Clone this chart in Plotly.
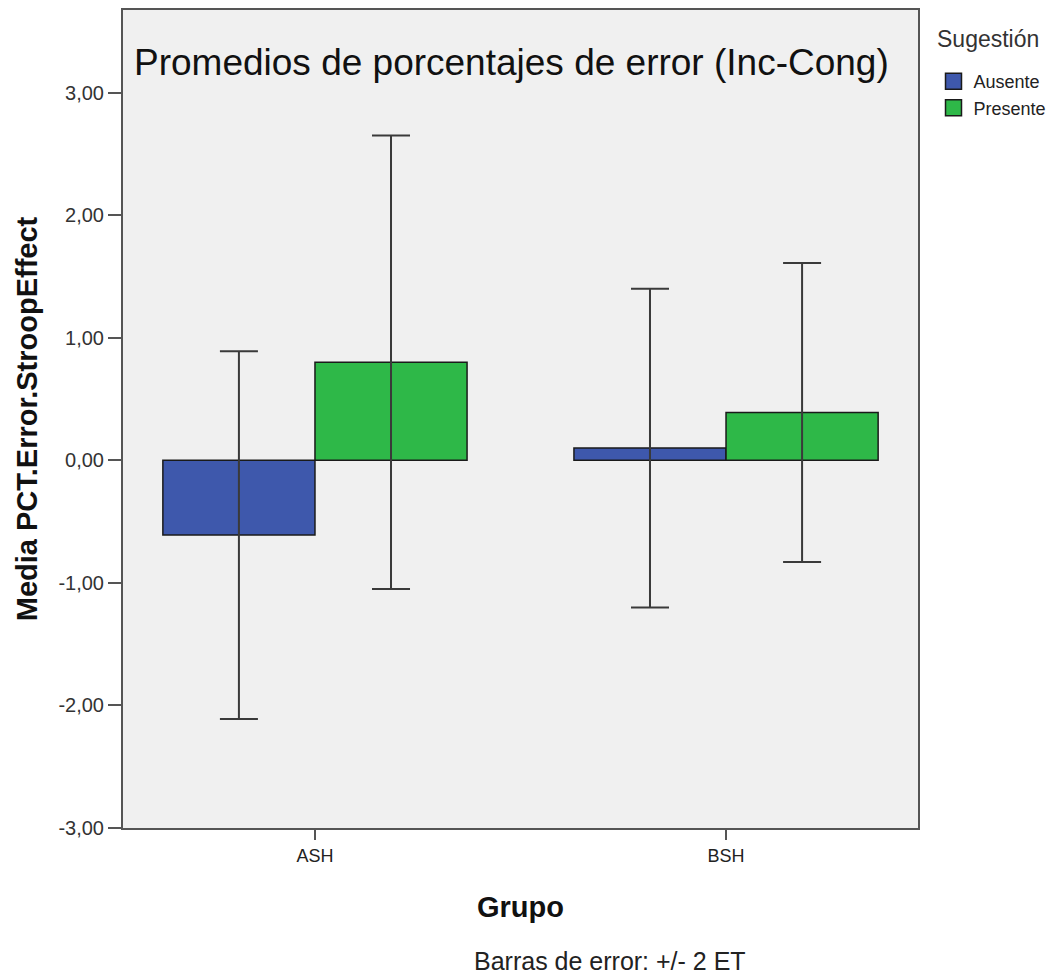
import plotly.graph_objects as go

grupos = ["ASH", "BSH"]
ausente_media = [-0.61, 0.10]
ausente_err = [1.50, 1.30]
presente_media = [0.80, 0.39]
presente_err = [1.85, 1.22]
tick_vals = [-3, -2, -1, 0, 1, 2, 3]
tick_text = ["-3,00", "-2,00", "-1,00", "0,00", "1,00", "2,00", "3,00"]

COL_AUS = "#3E58AC"
COL_PRE = "#2EB848"
err_style = dict(type="data", thickness=2, width=19, color="#3a3a3a")

fig = go.Figure()
fig.add_trace(go.Bar(
    x=grupos, y=ausente_media, name="Ausente", showlegend=False,
    marker=dict(color=COL_AUS, line=dict(color="#1a1a1a", width=1.5)),
    error_y=dict(array=ausente_err, **err_style),
))
fig.add_trace(go.Bar(
    x=grupos, y=presente_media, name="Presente", showlegend=False,
    marker=dict(color=COL_PRE, line=dict(color="#1a1a1a", width=1.5)),
    error_y=dict(array=presente_err, **err_style),
))
# legend entries with larger square swatches
for nm, col in [("Ausente", COL_AUS), ("Presente", COL_PRE)]:
    fig.add_trace(go.Scatter(
        x=[None], y=[None], mode="markers", name=nm, showlegend=True,
        marker=dict(symbol="square", size=18, color=col, line=dict(color="#1a1a1a", width=1.5)),
    ))

fig.update_layout(
    width=1062, height=978,
    margin=dict(l=123, r=144, t=8, b=150),
    paper_bgcolor="white", plot_bgcolor="#F0F0F0",
    barmode="group", bargap=0.26, bargroupgap=0,
    font=dict(family="Liberation Sans, Arial", color="#222"),
    showlegend=True,
    legend=dict(
        x=1.0195, y=0.935, xanchor="left", yanchor="top",
        font=dict(size=18, color="#222"),
        bgcolor="rgba(0,0,0,0)", borderwidth=0, tracegroupgap=0, itemwidth=30,
    ),
    xaxis=dict(
        range=[-0.467, 1.467],
        showline=True, mirror=True, linecolor="#555", linewidth=2,
        ticks="outside", ticklen=10, tickwidth=2, tickcolor="#555",
        tickfont=dict(size=18, color="#222"),
        title=dict(text="<b>Grupo</b>", font=dict(size=29, color="#111"), standoff=32),
        showgrid=False,
    ),
    yaxis=dict(
        range=[-3, 3.675], tickvals=tick_vals, tickmode="array", ticktext=tick_text,
        showline=True, mirror=True, linecolor="#555", linewidth=2,
        ticks="outside", ticklen=13, tickwidth=2, tickcolor="#555",
        tickfont=dict(size=20, color="#333"),
        title=dict(text="<b>Media PCT.Error.StroopEffect</b>", font=dict(size=29, color="#111"), standoff=12),
        showgrid=False, zeroline=False,
    ),
    annotations=[
        dict(text="Promedios de porcentajes de error (Inc-Cong)", xref="paper", yref="paper",
             x=0.489, y=0.936, xanchor="center", yanchor="middle", showarrow=False,
             font=dict(size=37, color="#111")),
        dict(text="Sugestión", xref="paper", yref="paper",
             x=1.0214, y=0.9646, xanchor="left", yanchor="middle", showarrow=False,
             font=dict(size=23, color="#333")),
        dict(text="Barras de error: +/- 2 ET", xref="paper", yref="paper",
             x=0.612, y=-0.162, xanchor="center", yanchor="middle", showarrow=False,
             font=dict(size=25, color="#222")),
    ],
)

fig.write_html("out.html")
